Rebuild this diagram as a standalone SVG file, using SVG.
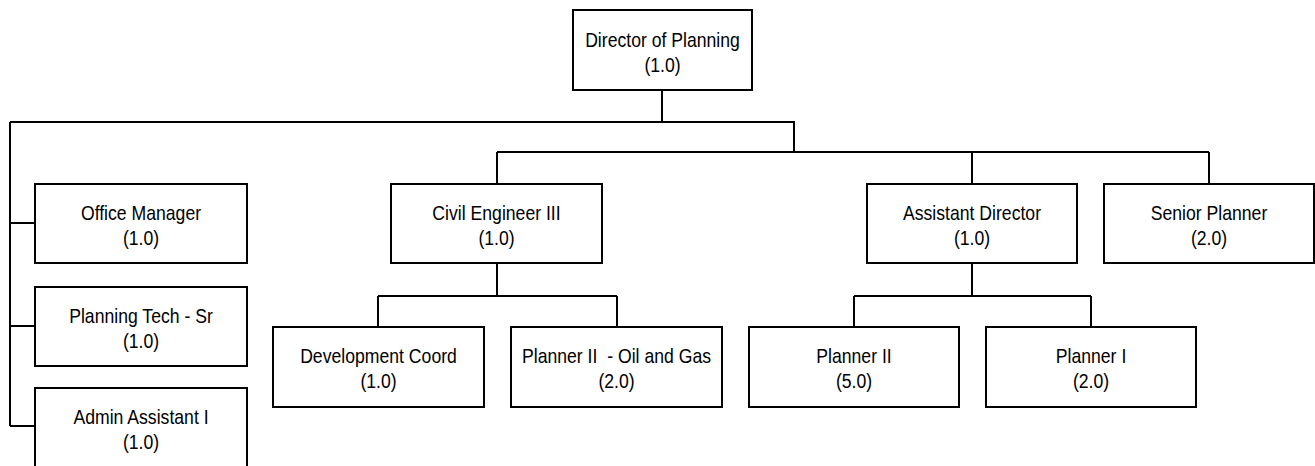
<svg xmlns="http://www.w3.org/2000/svg" width="1315" height="466" viewBox="0 0 1315 466">
  <style>
    .box { fill: #ffffff; stroke: #000000; stroke-width: 2; }
    .wire { fill: none; stroke: #000000; stroke-width: 2; }
    .lbl { font-family: "Liberation Sans", Arial, sans-serif; font-size: 20.5px; fill: #000000; text-anchor: middle; }
  </style>
  <rect width="1315" height="466" fill="#ffffff"/>

  <!-- reporting lines -->
  <g id="connectors" class="wire">
    <path d="M662 90 V122"/>
    <path d="M10 122 H794 V152"/>
    <path d="M10 122 V426"/>
    <path d="M10 223 H35 M10 326 H35 M10 426 H35"/>
    <path d="M497 152 H1209"/>
    <path d="M497 152 V184 M972 152 V184 M1209 152 V184"/>
    <path d="M497 263 V296 M378 296 H617 M378 296 V327 M617 296 V327"/>
    <path d="M972 263 V296 M854 296 H1091 M854 296 V327 M1091 296 V327"/>
  </g>

  <g id="director-of-planning">
    <rect class="box" x="573" y="10" width="179" height="80"/>
    <text class="lbl" transform="translate(662.5 0) scale(0.86 1)" y="47">Director of Planning</text>
    <text class="lbl" transform="translate(662.5 0) scale(0.86 1)" y="72">(1.0)</text>
  </g>

  <g id="office-manager">
    <rect class="box" x="35" y="184" width="212" height="79"/>
    <text class="lbl" transform="translate(141 0) scale(0.86 1)" y="220">Office Manager</text>
    <text class="lbl" transform="translate(141 0) scale(0.86 1)" y="245">(1.0)</text>
  </g>

  <g id="planning-tech-sr">
    <rect class="box" x="35" y="287" width="212" height="79"/>
    <text class="lbl" transform="translate(141 0) scale(0.86 1)" y="323">Planning Tech - Sr</text>
    <text class="lbl" transform="translate(141 0) scale(0.86 1)" y="348">(1.0)</text>
  </g>

  <g id="admin-assistant-i">
    <rect class="box" x="35" y="388" width="212" height="79"/>
    <text class="lbl" transform="translate(141 0) scale(0.86 1)" y="424">Admin Assistant I</text>
    <text class="lbl" transform="translate(141 0) scale(0.86 1)" y="449">(1.0)</text>
  </g>

  <g id="civil-engineer-iii">
    <rect class="box" x="391" y="184" width="211" height="79"/>
    <text class="lbl" transform="translate(496.5 0) scale(0.86 1)" y="220">Civil Engineer III</text>
    <text class="lbl" transform="translate(496.5 0) scale(0.86 1)" y="245">(1.0)</text>
  </g>

  <g id="assistant-director">
    <rect class="box" x="867" y="184" width="210" height="79"/>
    <text class="lbl" transform="translate(972 0) scale(0.86 1)" y="220">Assistant Director</text>
    <text class="lbl" transform="translate(972 0) scale(0.86 1)" y="245">(1.0)</text>
  </g>

  <g id="senior-planner">
    <rect class="box" x="1104" y="184" width="210" height="79"/>
    <text class="lbl" transform="translate(1209 0) scale(0.86 1)" y="220">Senior Planner</text>
    <text class="lbl" transform="translate(1209 0) scale(0.86 1)" y="245">(2.0)</text>
  </g>

  <g id="development-coord">
    <rect class="box" x="273" y="327" width="211" height="80"/>
    <text class="lbl" transform="translate(378.5 0) scale(0.86 1)" y="363">Development Coord</text>
    <text class="lbl" transform="translate(378.5 0) scale(0.86 1)" y="388">(1.0)</text>
  </g>

  <g id="planner-ii-oil-and-gas">
    <rect class="box" x="511" y="327" width="211" height="80"/>
    <text class="lbl" transform="translate(616.5 0) scale(0.86 1)" y="363" xml:space="preserve">Planner II  - Oil and Gas</text>
    <text class="lbl" transform="translate(616.5 0) scale(0.86 1)" y="388">(2.0)</text>
  </g>

  <g id="planner-ii">
    <rect class="box" x="749" y="327" width="210" height="80"/>
    <text class="lbl" transform="translate(854 0) scale(0.86 1)" y="363">Planner II</text>
    <text class="lbl" transform="translate(854 0) scale(0.86 1)" y="388">(5.0)</text>
  </g>

  <g id="planner-i">
    <rect class="box" x="986" y="327" width="210" height="80"/>
    <text class="lbl" transform="translate(1091 0) scale(0.86 1)" y="363">Planner I</text>
    <text class="lbl" transform="translate(1091 0) scale(0.86 1)" y="388">(2.0)</text>
  </g>
</svg>
